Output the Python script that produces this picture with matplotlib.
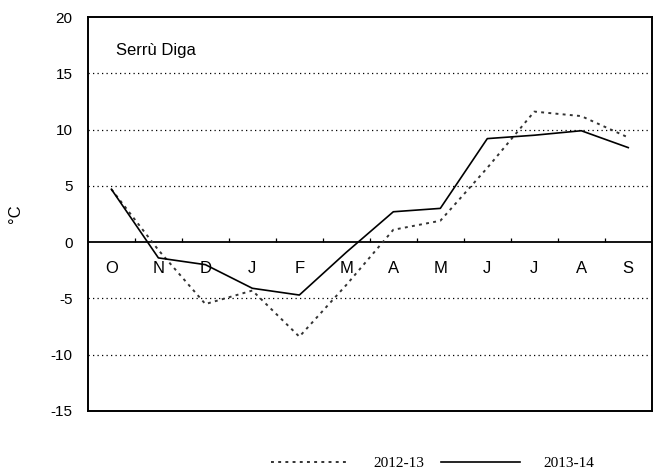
import numpy as np
import matplotlib
matplotlib.use("Agg")
import matplotlib.pyplot as plt

# monthly mean air temperature, hydrological year Oct-Sep
months = ["O", "N", "D", "J", "F", "M", "A", "M", "J", "J", "A", "S"]
temp_2012_13 = [4.7, -0.7, -5.5, -4.3, -8.4, -3.8, 1.1, 1.9, 6.6, 11.6, 11.2, 9.3]
temp_2013_14 = [4.7, -1.4, -2.0, -4.1, -4.7, -0.9, 2.7, 3.0, 9.2, 9.5, 9.9, 8.4]
yticks = [-15, -10, -5, 0, 5, 10, 15, 20]
station = "Serrù Diga"

plt.rcParams["font.family"] = ["Liberation Sans", "DejaVu Sans"]
plt.rcParams["axes.unicode_minus"] = False

fig = plt.figure(figsize=(6.61, 4.74), dpi=100)
ax = fig.add_axes([0.133, 0.133, 0.853, 0.831])

x = np.arange(len(months))

# dotted grid lines (not at 0, which gets a solid axis line)
for v in yticks[1:-1]:
    if v != 0:
        ax.axhline(v, color="black", lw=0.9, linestyle=(0, (1, 2.6)), zorder=1)
ax.axhline(0, color="black", lw=1.3, zorder=2)

# small month separators on the zero line
ax.vlines(x[:-1] + 0.5, 0, 0.35, color="black", lw=0.9, zorder=2)

l1, = ax.plot(x, temp_2012_13, color="#333333", lw=1.4, linestyle=(0, (1.5, 2.2)), zorder=3)
l2, = ax.plot(x, temp_2013_14, color="black", lw=1.2, zorder=4)

for xi, m in zip(x, months):
    ax.text(xi, -2.3, m, ha="center", va="center", fontsize=12)

ax.text(0.05, 0.915, station, transform=ax.transAxes, fontsize=12, ha="left", va="center")

ax.set_xlim(-0.5, len(months) - 0.5)
ax.set_ylim(-15, 20)
ax.set_xticks([])
ax.set_yticks(yticks)
ax.tick_params(axis="y", length=0, pad=11, labelsize=11)
ax.set_ylabel("°C", fontsize=12, labelpad=20)
for s in ax.spines.values():
    s.set_linewidth(1.4)

fig.legend([l1, l2], ["2012-13", "2013-14"], loc="center", bbox_to_anchor=(0.654, 0.023),
           ncol=2, frameon=False, handlelength=5.2, handletextpad=1.5, columnspacing=1.1,
           prop={"family": "Liberation Serif", "size": 11})

fig.savefig("out.png", dpi=100, facecolor="white")
